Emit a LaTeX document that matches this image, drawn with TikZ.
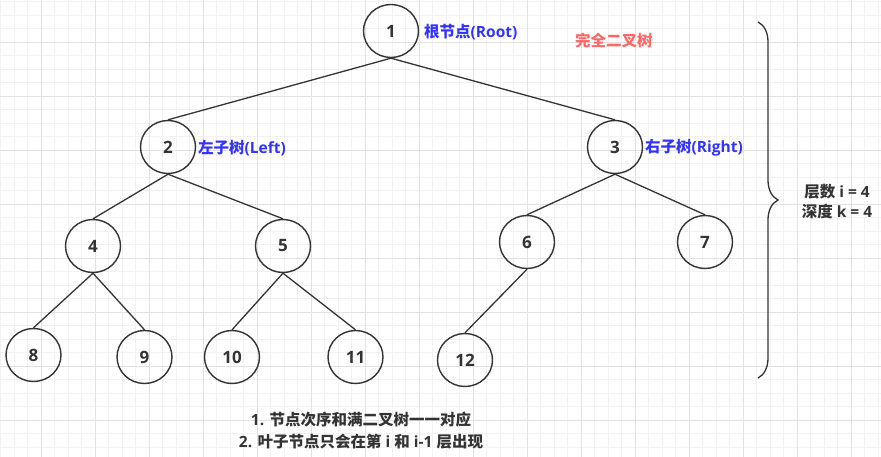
\documentclass[tikz,border=0pt]{standalone}
\usepackage{fontspec}
\setmainfont{Open Sans}[BoldFont={Open Sans Bold}]
\newfontfamily\cjk{Noto Sans CJK SC}
\usetikzlibrary{shapes.geometric,decorations.pathreplacing}
\definecolor{ink}{HTML}{333333}
\definecolor{lblue}{HTML}{3333FF}
\definecolor{lred}{HTML}{FF6666}
\definecolor{gminor}{HTML}{F2F2F2}
\definecolor{gmajor}{HTML}{E2E2E2}
\tikzset{
  treenode/.style={ellipse, draw=ink, line width=1.4pt, minimum width=55pt, minimum height=53pt, inner sep=0pt,
    text=ink, font=\fontsize{17}{19}\selectfont\bfseries},
  edge/.style={draw=ink, line width=1.3pt},
  bluelbl/.style={anchor=west, inner sep=0pt, text=lblue, font=\fontsize{15.5}{17}\selectfont\bfseries},
  note/.style={inner sep=0pt, text=ink, align=center, font=\fontsize{15.5}{22}\selectfont\bfseries}
}
\begin{document}
\begin{tikzpicture}[x=1pt,y=-1pt]
\useasboundingbox (0,0) rectangle (881,457);
% grid
\foreach \i in {0,...,65} {
  \draw[gminor, line width=0.8pt] ({0.5+13.5*\i},0) -- ({0.5+13.5*\i},457);
}
\foreach \i in {0,...,34} {
  \draw[gminor, line width=0.8pt] (0,{1.5+13.5*\i}) -- (881,{1.5+13.5*\i});
}
\foreach \i in {0,...,16} {
  \draw[gmajor, line width=0.9pt] ({41+54*\i},0) -- ({41+54*\i},457);
}
\foreach \i in {-1,...,8} {
  \draw[gmajor, line width=0.9pt] (0,{42+54*\i}) -- (881,{42+54*\i});
}
% nodes
\node[treenode] (n1) at (391,31) {1};
\node[treenode] (n2) at (168,147) {2};
\node[treenode] (n3) at (615,147) {3};
\node[treenode] (n4) at (93,246) {4};
\node[treenode] (n5) at (283,246) {5};
\node[treenode] (n6) at (527,242) {6};
\node[treenode] (n7) at (705,242) {7};
\node[treenode] (n8) at (33.5,355) {8};
\node[treenode] (n9) at (144.5,357) {9};
\node[treenode] (n10) at (232,357) {10};
\node[treenode] (n11) at (355.5,357) {11};
\node[treenode] (n12) at (465,360) {12};
% edges
\foreach \a/\b in {n1/n2,n1/n3,n2/n4,n2/n5,n3/n6,n3/n7,n4/n8,n4/n9,n5/n10,n5/n11,n6/n12}
  \draw[edge] (\a.south) -- (\b.north);
% labels
\node[bluelbl] (lroot) at (424,32) {{\cjk\bfseries 根节点}(Root)};
\node[bluelbl, text=lred] (ltitle) at (575,41) {{\cjk\bfseries 完全二叉树}};
\node[bluelbl] (lleft) at (198,148) {{\cjk\bfseries 左子树}(Left)};
\node[bluelbl] (lright) at (645,148) {{\cjk\bfseries 右子树}(Right)};
% brace
\coordinate (btop) at (758,22);
\coordinate (bbot) at (758,378);
\draw[draw=ink, line width=1.3pt, decorate, decoration={brace, amplitude=20pt, aspect=0.5}] (btop) -- (bbot);
\node[note, font=\fontsize{15.5}{20}\selectfont\bfseries] (depth) at (837,202) {{\cjk\bfseries 层数} i = 4\\{\cjk\bfseries 深度} k = 4};
% notes
\node[note] (notes) at (361,431) {1. {\cjk\bfseries 节点次序和满二叉树一一对应}\\2. {\cjk\bfseries 叶子节点只会在第} i {\cjk\bfseries 和} i-1 {\cjk\bfseries 层出现}};
\end{tikzpicture}
\end{document}
